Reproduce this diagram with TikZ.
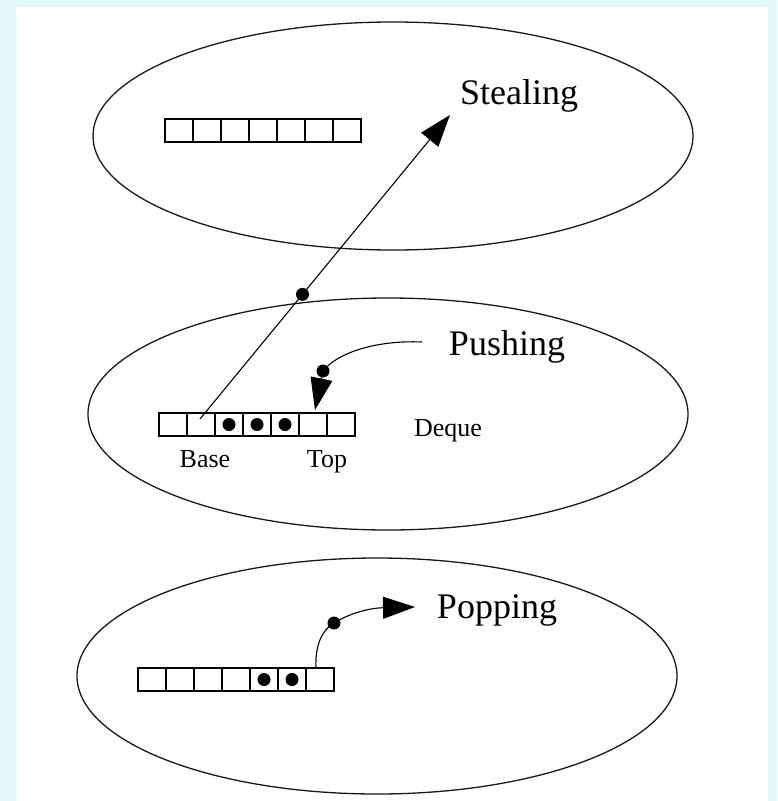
\documentclass[tikz,border=0pt]{standalone}
\usepackage{fontspec}
\setmainfont{Liberation Serif}
\usetikzlibrary{arrows.meta}
\definecolor{bgblue}{RGB}{226,245,249}
\tikzset{
  cell/.style={draw, line width=1.3pt, minimum width=28pt, minimum height=23pt, inner sep=0pt, outer sep=0pt},
  token/.style={circle, fill=black, minimum size=13pt, inner sep=0pt},
  bigarrow/.style={-{Triangle[length=32pt,width=22pt]}, line width=1.1pt},
  big/.style={font=\fontsize{36}{40}\selectfont, inner sep=0pt},
  small/.style={font=\fontsize{26}{30}\selectfont, inner sep=0pt},
  blob/.style={line width=1.3pt, draw=black!90}
}
\begin{document}
\begin{tikzpicture}[x=1pt, y=-1pt]
  \useasboundingbox (0,0) rectangle (777,801);
  \fill[bgblue] (0,0) rectangle (777,801);
  \fill[white] (16,7) rectangle (768,801);
  % ellipses
  \draw[blob] (393,136) ellipse [x radius=300pt, y radius=114pt];
  \draw[blob] (388,414) ellipse [x radius=300pt, y radius=116pt];
  \draw[blob] (377,676) ellipse [x radius=300pt, y radius=118pt];
  % top deque
  \foreach \i in {0,...,6} {
    \node[cell] (t\i) at ({179+28*\i},130.5) {};
  }
  % middle deque
  \foreach \i in {0,...,6} {
    \node[cell] (m\i) at ({173+28*\i},424.5) {};
  }
  \foreach \i in {2,3,4} {
    \node[token] (md\i) at (m\i.center) {};
  }
  % bottom deque
  \foreach \i in {0,...,6} {
    \node[cell] (b\i) at ({152+28*\i},679.5) {};
  }
  \foreach \i in {4,5} {
    \node[token] (bd\i) at (b\i.center) {};
  }
  % labels
  \node[big] (steal) at (519,96) {Stealing};
  \node[big] (push) at (507,347) {Pushing};
  \node[big] (pop) at (497,610) {Popping};
  \node[small] (deque) at (448,431) {Deque};
  \node[small] (base) at (205,459) {Base};
  \node[small] (top) at (327,462) {Top};
  % coordinates
  \coordinate (sstart) at (200,419);
  \coordinate (stip) at (450,115);
  \coordinate (pstart) at (422,342);
  \coordinate (pdotc) at (323,371);
  \coordinate (ptip) at (315,410);
  \coordinate (ostart) at (316,668);
  \coordinate (odotc) at (334,623);
  \coordinate (otip) at (415,607);
  % stealing arrow
  \draw[bigarrow] (sstart) -- node[token, pos=0.41] (sdot) {} (stip);
  % pushing arrow
  \draw[bigarrow] (pstart) .. controls (378,340) and (338,352) .. (pdotc) -- (ptip);
  \node[token] (pdot) at (pdotc) {};
  % popping arrow
  \draw[bigarrow] (ostart) .. controls (315,645) and (322,630) .. (odotc) .. controls (350,613) and (370,608) .. (otip);
  \node[token] (odot) at (odotc) {};
\end{tikzpicture}
\end{document}
